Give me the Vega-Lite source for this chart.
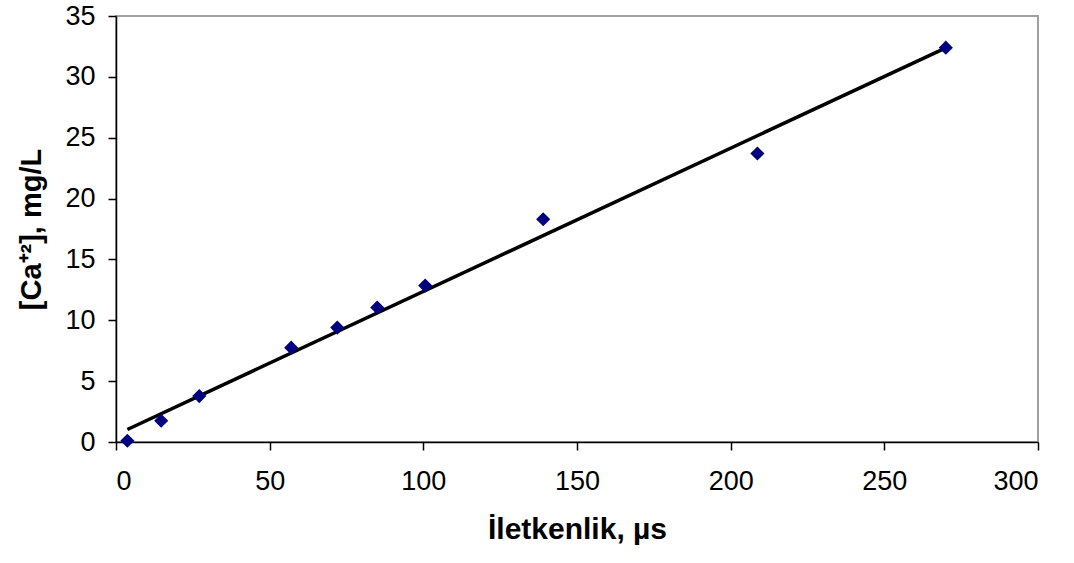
{
  "$schema": "https://vega.github.io/schema/vega-lite/v6.json",
  "autosize": "none",
  "width": 922,
  "height": 426,
  "padding": {"left": 116, "top": 16, "right": 36, "bottom": 121},
  "background": "white",
  "config": {
    "font": "Liberation Sans",
    "view": {"stroke": "#a0a0a0", "strokeWidth": 2},
    "axis": {"grid": false, "domainColor": "#000000", "domainWidth": 1.5, "tickColor": "#000000", "tickWidth": 1.5, "tickSize": 8, "labelFont": "Liberation Sans", "labelFontSize": 27, "labelColor": "#000000", "titleFont": "Liberation Sans", "titleFontWeight": "bold", "titleColor": "#000000"}
  },
  "data": {
    "values": [
      {"i": 3.7, "c": 0.1},
      {"i": 14.7, "c": 1.75},
      {"i": 27.1, "c": 3.77},
      {"i": 57, "c": 7.75},
      {"i": 72, "c": 9.4},
      {"i": 85, "c": 11.05},
      {"i": 100.6, "c": 12.85},
      {"i": 139, "c": 18.3},
      {"i": 208.7, "c": 23.7},
      {"i": 270, "c": 32.4}
    ]
  },
  "layer": [
    {
      "transform": [{"regression": "c", "on": "i"}],
      "mark": {"type": "line", "color": "#000000", "strokeWidth": 3.5},
      "encoding": {
        "x": {"field": "i", "type": "quantitative"},
        "y": {"field": "c", "type": "quantitative"}
      }
    },
    {
      "mark": {"type": "point", "shape": "diamond", "filled": true, "color": "#000080", "size": 200, "opacity": 1},
      "encoding": {
        "x": {"field": "i", "type": "quantitative", "scale": {"domain": [0, 300], "nice": false}, "axis": {"values": [0, 50, 100, 150, 200, 250, 300], "title": "İletkenlik, µs", "titleFontSize": 30, "labelPadding": 18, "titlePadding": 20}},
        "y": {"field": "c", "type": "quantitative", "scale": {"domain": [0, 35], "nice": false}, "axis": {"values": [0, 5, 10, 15, 20, 25, 30, 35], "title": "[Ca⁺²], mg/L", "titleFontSize": 29, "labelPadding": 13, "titlePadding": 18}}
      }
    }
  ]
}
